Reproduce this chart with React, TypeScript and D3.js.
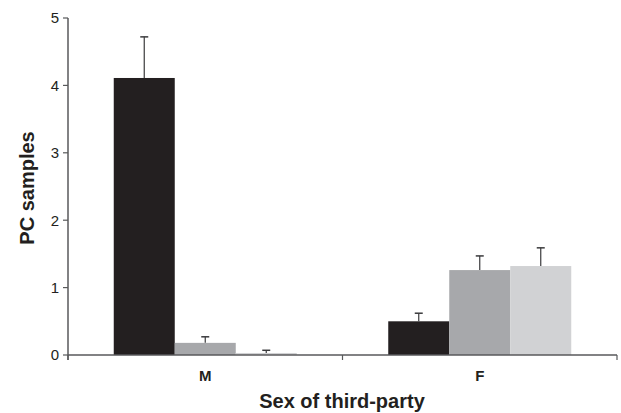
import React, { useEffect, useRef } from 'react'
import * as d3 from 'd3'

const categories = ['M', 'F']
const groups = ['g1', 'g2', 'g3']
const values = [
  [4.11, 0.18, 0.03],
  [0.5, 1.26, 1.32],
]
const errors = [
  [0.61, 0.09, 0.04],
  [0.12, 0.21, 0.27],
]
const yTicks = [0, 1, 2, 3, 4, 5]
const colors = ['#231f20', '#a7a8ab', '#d1d2d4']

const App = () => {
  const svgRef = useRef<SVGSVGElement>(null)

  useEffect(() => {
    const width = 621
    const height = 413
    const svg = d3.select(svgRef.current).attr('width', width).attr('height', height)
    svg.selectAll('*').remove()

    const left = 68
    const right = 617
    const top = 18
    const bottom = 355
    const font = 'Liberation Sans, Arial, sans-serif'
    const axisColor = '#58595b'

    const x = d3.scaleBand().domain(categories).range([left, right])
    const inner = d3
      .scaleBand()
      .domain(groups)
      .range([0, x.bandwidth()])
      .paddingOuter(0.75)
    const y = d3.scaleLinear().domain([0, 5]).range([bottom, top])

    const g = svg.append('g')

    categories.forEach((c, i) => {
      groups.forEach((grp, j) => {
        const x0 = (x(c) as number) + (inner(grp) as number)
        const w = inner.bandwidth()
        const v = values[i][j]
        const e = errors[i][j]
        g.append('rect')
          .attr('x', x0)
          .attr('y', y(v))
          .attr('width', w)
          .attr('height', y(0) - y(v))
          .attr('fill', colors[j])
        const cx = x0 + w / 2
        g.append('line')
          .attr('x1', cx)
          .attr('x2', cx)
          .attr('y1', y(v))
          .attr('y2', y(v + e))
          .attr('stroke', '#3a3a3c')
          .attr('stroke-width', 1.2)
        g.append('line')
          .attr('x1', cx - 4)
          .attr('x2', cx + 4)
          .attr('y1', y(v + e))
          .attr('y2', y(v + e))
          .attr('stroke', '#3a3a3c')
          .attr('stroke-width', 1.5)
      })
    })

    // y axis
    g.append('line')
      .attr('x1', left)
      .attr('x2', left)
      .attr('y1', top)
      .attr('y2', bottom + 5)
      .attr('stroke', axisColor)
      .attr('stroke-width', 1.5)
    yTicks.forEach((t) => {
      g.append('line')
        .attr('x1', left - 5)
        .attr('x2', left)
        .attr('y1', y(t))
        .attr('y2', y(t))
        .attr('stroke', axisColor)
        .attr('stroke-width', 1.2)
      g.append('text')
        .attr('x', left - 9)
        .attr('y', y(t))
        .attr('dy', '0.36em')
        .attr('text-anchor', 'end')
        .style('font-family', font)
        .style('font-size', '15px')
        .attr('fill', '#231f20')
        .text(t)
    })

    // x axis
    g.append('line')
      .attr('x1', left)
      .attr('x2', right)
      .attr('y1', bottom)
      .attr('y2', bottom)
      .attr('stroke', axisColor)
      .attr('stroke-width', 1.5)
    const boundaries = [left, ...categories.map((c) => (x(c) as number) + x.bandwidth())]
    boundaries.forEach((bx) => {
      g.append('line')
        .attr('x1', bx)
        .attr('x2', bx)
        .attr('y1', bottom)
        .attr('y2', bottom + 5)
        .attr('stroke', axisColor)
        .attr('stroke-width', 1.2)
    })
    categories.forEach((c) => {
      g.append('text')
        .attr('x', (x(c) as number) + x.bandwidth() / 2)
        .attr('y', 381)
        .attr('text-anchor', 'middle')
        .style('font-family', font)
        .style('font-size', '15px')
        .style('font-weight', 'bold')
        .attr('fill', '#231f20')
        .text(c)
    })

    g.append('text')
      .attr('x', 342)
      .attr('y', 408)
      .attr('text-anchor', 'middle')
      .style('font-family', font)
      .style('font-size', '20px')
      .style('font-weight', 'bold')
      .attr('fill', '#231f20')
      .text('Sex of third-party')

    g.append('text')
      .attr('transform', `translate(34, 188) rotate(-90)`)
      .attr('text-anchor', 'middle')
      .style('font-family', font)
      .style('font-size', '20px')
      .style('font-weight', 'bold')
      .attr('fill', '#231f20')
      .text('PC samples')
  }, [])

  return (
    <div style={{ position: 'absolute', left: 0, top: 0 }}>
      <svg ref={svgRef}></svg>
    </div>
  )
}

export default App
